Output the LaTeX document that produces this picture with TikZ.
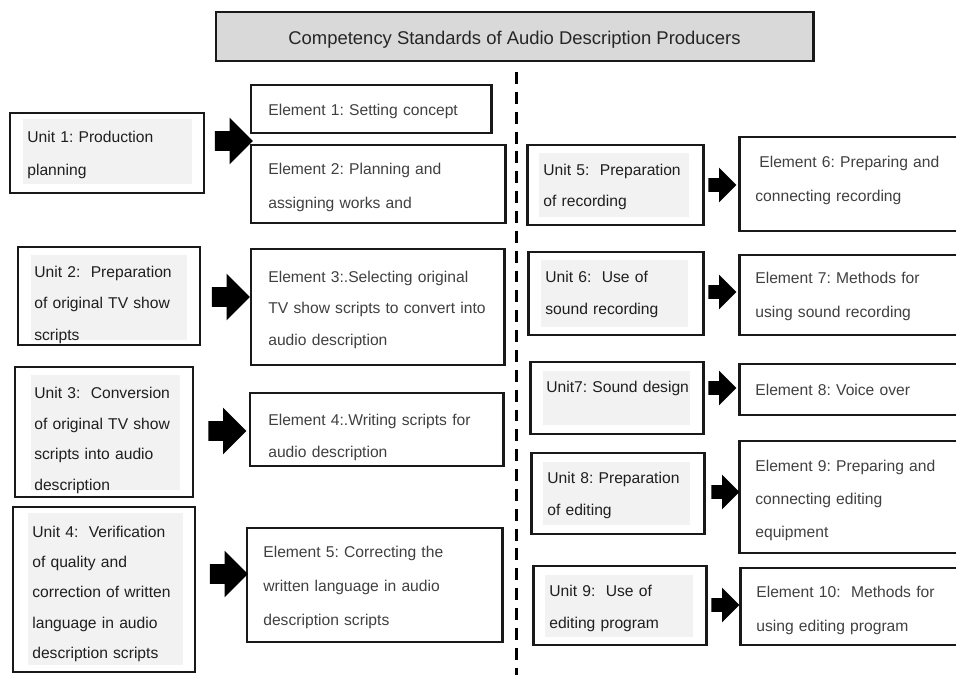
\documentclass[tikz,border=0pt]{standalone}
\usepackage{fontspec}
\setmainfont{Liberation Sans}
\usetikzlibrary{fit,shapes.arrows}
\newcommand{\pxu}{0.02cm}
\frenchspacing

\begin{document}
\begin{tikzpicture}[x=0.02cm, y=-0.02cm,
  box/.style={draw=black!90, line width=1.7pt, inner sep=0pt},
  titlebox/.style={box, fill=black!15},
  panel/.style={fill=black!5},
  txt/.style={anchor=base west, align=left, text width=250*\pxu, inner sep=0pt,
    text=black!75, font=\fontsize{8.9}{#1}\selectfont},
  txt/.default=18.8pt,
  utxt/.style={txt=#1, text=black!88},
  utxt/.default=18.2pt,
  bigarrow/.style={single arrow, fill=black, inner sep=0pt, inner ysep=9.5*\pxu,
    single arrow head extend=13.5*\pxu, minimum height=38*\pxu},
  smallarrow/.style={bigarrow, inner ysep=6.5*\pxu,
    single arrow head extend=10.5*\pxu, minimum height=28*\pxu}]
\useasboundingbox (0,0) rectangle (956,675);

% heading
\node[titlebox, fit={(216,12) (813,61)}] (title) {};
\node[anchor=base, inner sep=0pt, text=black!85, font=\fontsize{10.5}{12}\selectfont]
  (titletext) at (514.5,44.5) {Competency Standards of Audio Description Producers};

% separator between the two columns
\draw[line width=1.7pt, dash pattern=on 6.8pt off 4.5pt] (516,72) -- (516,680);

% unit boxes, each with its light panel inside
\foreach \n/\xa/\ya/\xb/\yb/\xc/\yc/\xd/\yd in {
    1/10/113/204/193/23/119/192/184,
    2/18/247/200/345/31/255/187/340,
    3/15/367/193/497/31/375/180/490,
    4/13/507/195/672/28/513/183/665,
    5/527/145/703/225/539/153/689/217,
    6/528/252/703/335/541/260/688/327,
    7/530/362/703/434/543/371/690/425,
    8/531/453/704/534/543/462/690/525,
    9/533/566/706/645/545/575/693/637} {
  \node[box, fit={(\xa,\ya) (\xb,\yb)}] (u\n) {};
  \fill[panel] (\xc,\yc) rectangle (\xd,\yd);
}

% element boxes
\foreach \n/\xa/\ya/\xb/\yb in {
    1/251/85/491/133, 2/251/145/505/223, 3/251/249/504/365,
    4/250/393/503/466, 5/247/528/502/642, 6/739/137/962/231,
    7/739/255/962/335, 8/739/364/962/415, 9/739/441/962/553,
    10/740/568/962/645} {
  \node[box, fit={(\xa,\ya) (\xb,\yb)}] (e\n) {};
}

% arrows from units to elements
\foreach \n/\x/\y in {1/229/141, 2/226/297, 3/222.5/431, 4/224/574}
  \node[bigarrow] (a\n) at (\x,\y) {};
\foreach \n/\x/\y in {5/719/185, 6/719/292, 7/719/388, 8/722/492, 9/722/605}
  \node[smallarrow] (a\n) at (\x,\y) {};

% left column texts
\node[utxt=18.8pt] (u1t) at (27,142.5) {Unit 1: Production\\planning};
\node[utxt=17.9pt] (u2t) at (34,277.5) {Unit 2:\ \ Preparation\\of original TV show\\scripts};
\node[utxt=17.4pt] (u3t) at (34,398.5) {Unit 3:\ \ Conversion\\of original TV show\\scripts into audio\\description};
\node[utxt=17.2pt] (u4t) at (32,537.5) {Unit 4:\ \ Verification\\of quality and\\correction of written\\language in audio\\description scripts};

\node[txt] (e1t) at (268,115.5) {Element 1: Setting concept};
\node[txt=19.3pt] (e2t) at (268,174.5) {Element 2: Planning and\\assigning works and};
\node[txt=17.9pt] (e3t) at (268,282.5) {Element 3:.Selecting original\\TV show scripts to convert into\\audio description};
\node[txt=18.2pt] (e4t) at (268,425.5) {Element 4:.Writing scripts for\\audio description};
\node[txt=19.3pt] (e5t) at (263,557.5) {Element 5: Correcting the\\written language in audio\\description scripts};

% right column texts
\node[utxt=17.6pt] (u5t) at (543,175.5) {Unit 5:\ \ Preparation\\of recording};
\node[utxt] (u6t) at (545,282.5) {Unit 6:\ \ Use of\\sound recording};
\node[utxt] (u7t) at (546,392.5) {Unit7: Sound design};
\node[utxt] (u8t) at (547,483.5) {Unit 8: Preparation\\of editing};
\node[utxt] (u9t) at (549,596.5) {Unit 9:\ \ Use of\\editing program};

\node[txt=19.3pt] (e6t) at (755,167.5) {\hspace*{0.08cm}Element 6: Preparing and\\connecting recording};
\node[txt=19.3pt] (e7t) at (755,283.5) {Element 7: Methods for\\using sound recording};
\node[txt] (e8t) at (755,395.5) {Element 8: Voice over};
\node[txt] (e9t) at (755,471.5) {Element 9: Preparing and\\connecting editing\\equipment};
\node[txt=19.3pt] (e10t) at (756,597.5) {Element 10:\ \ Methods for\\using editing program};
\end{tikzpicture}
\end{document}
